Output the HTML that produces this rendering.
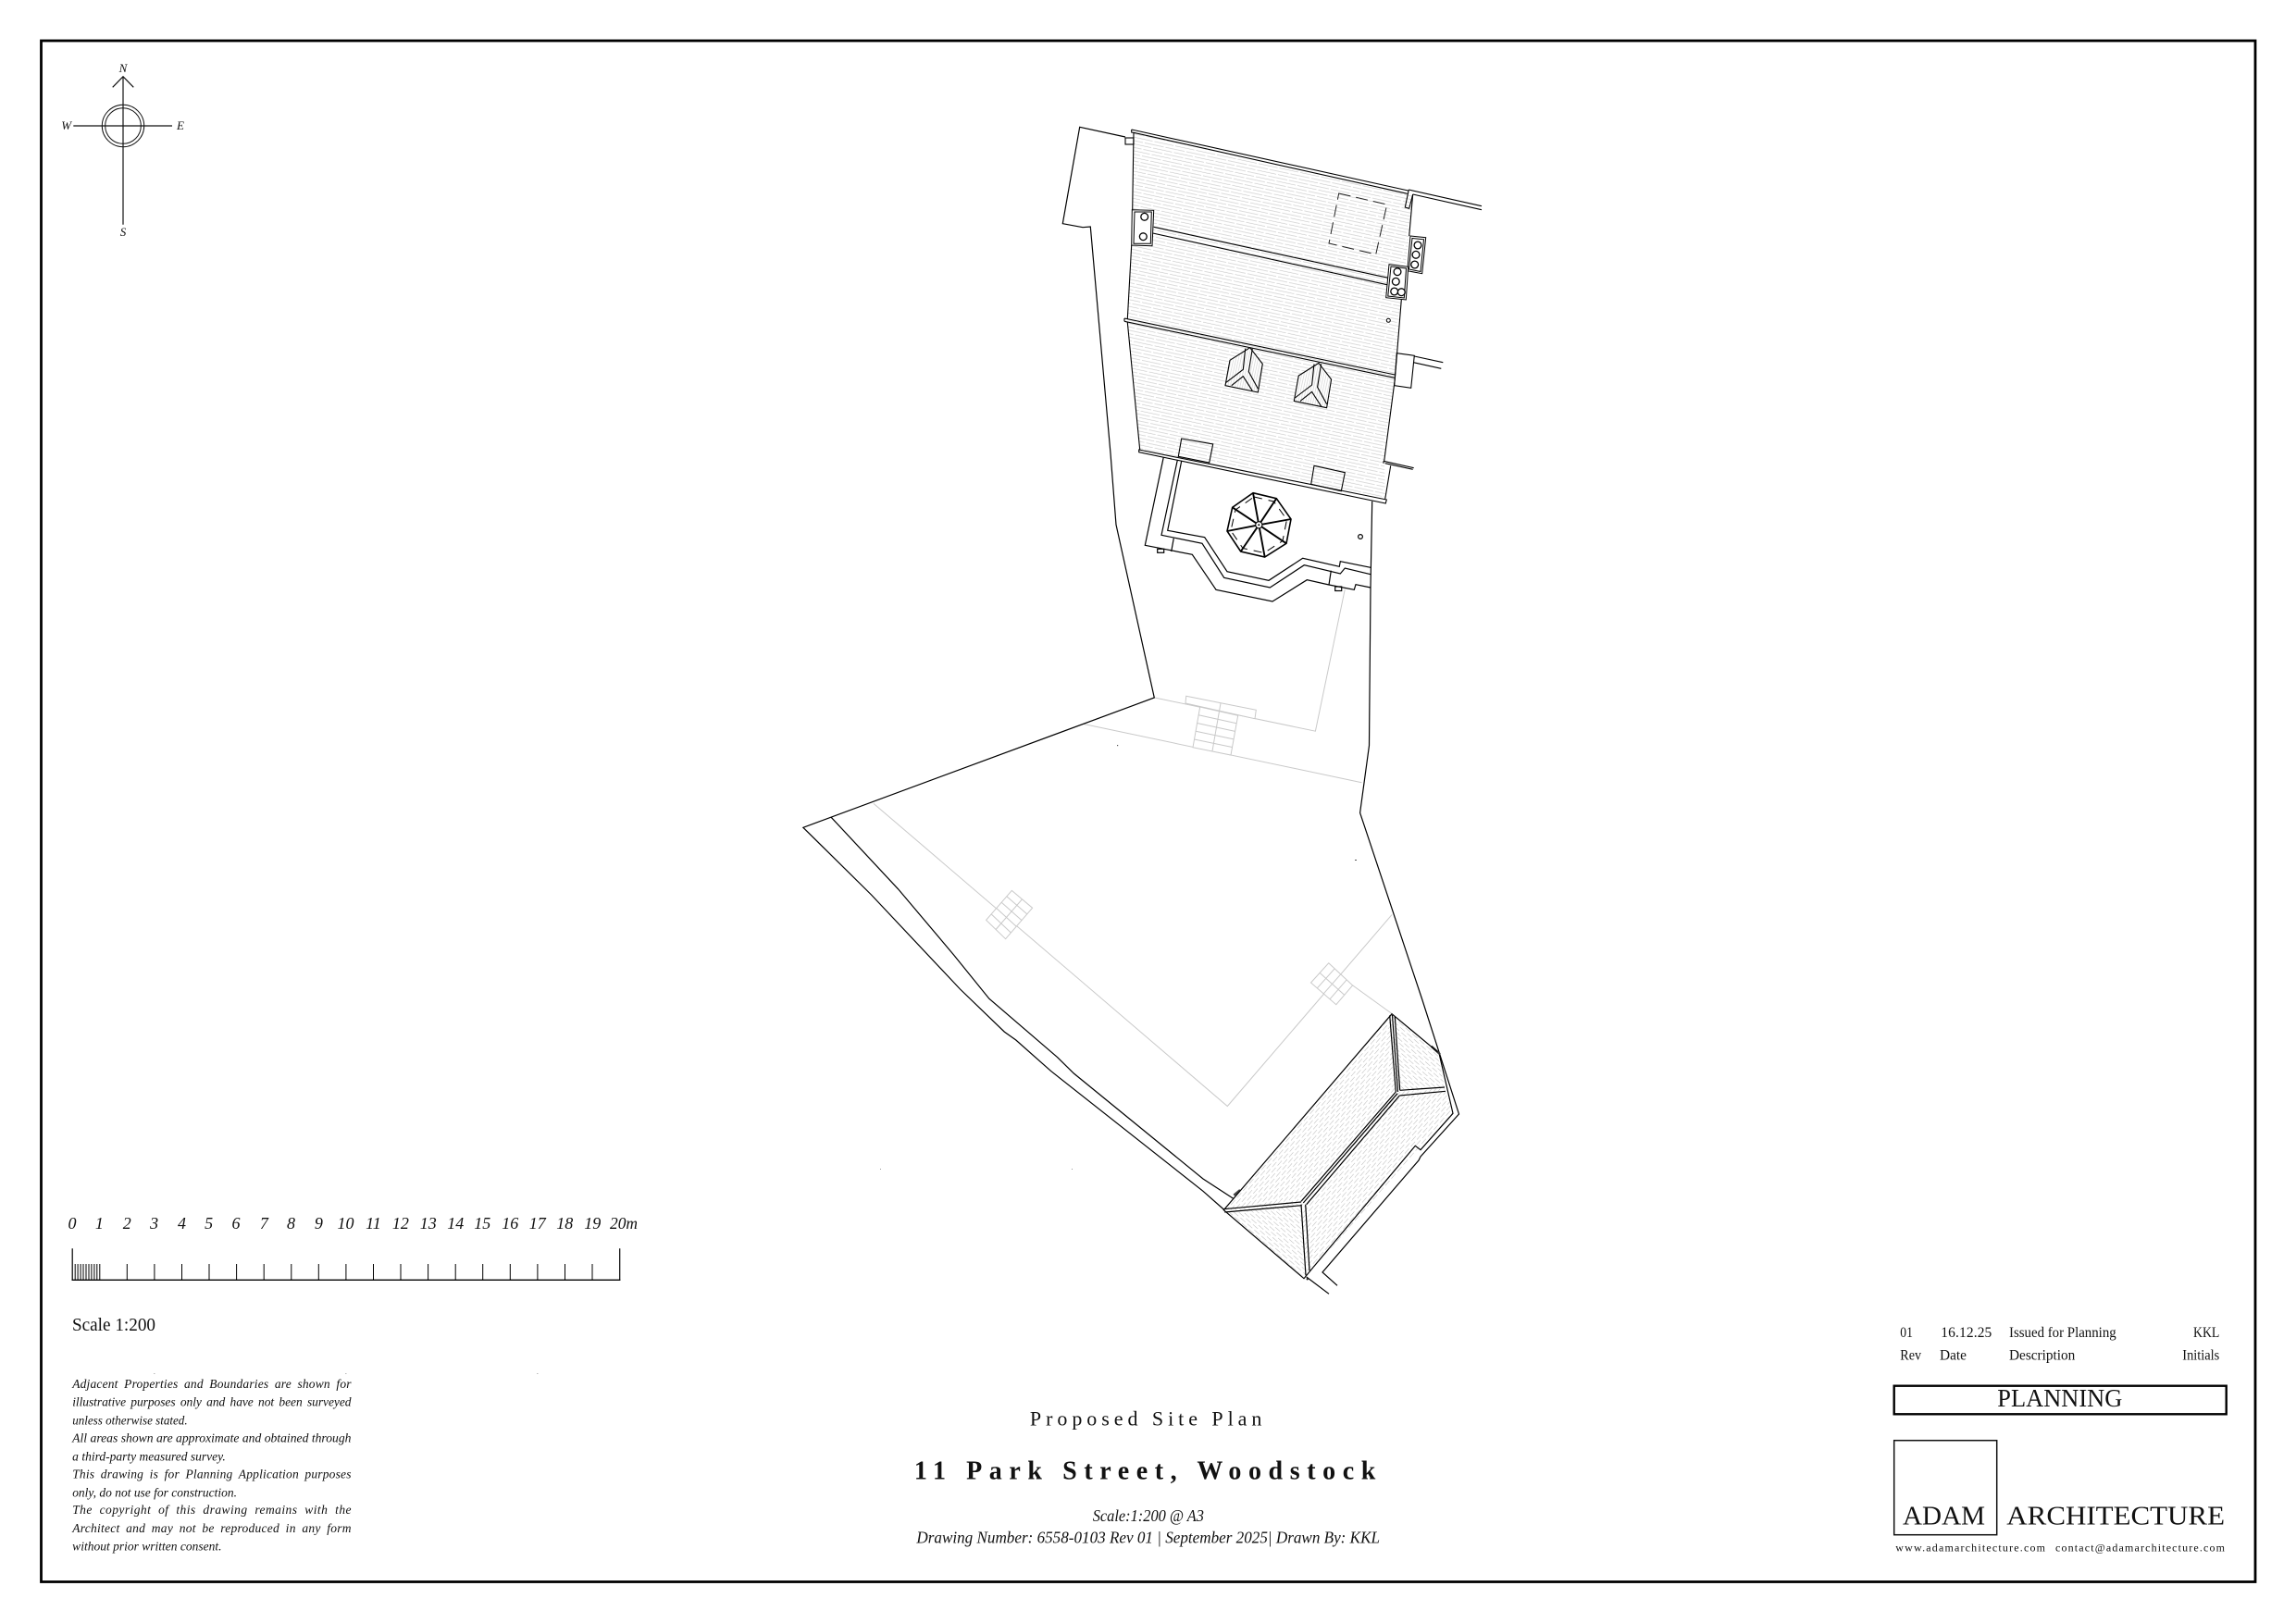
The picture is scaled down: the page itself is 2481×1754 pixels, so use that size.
<!DOCTYPE html>
<html><head><meta charset="utf-8"><title>Proposed Site Plan</title>
<style>html,body{margin:0;padding:0;background:#fff}svg{display:block}
text{font-family:"Liberation Serif",serif;fill:#111}</style></head><body>
<svg xmlns="http://www.w3.org/2000/svg" width="2481" height="1754" viewBox="0 0 2481 1754">
<defs>
<pattern id="h1" width="46" height="7.2" patternUnits="userSpaceOnUse" patternTransform="rotate(12)"><line x1="0" y1="1.8" x2="46" y2="1.8" stroke="#c6c6c6" stroke-width=".6" stroke-dasharray="21 2"/><line x1="0" y1="5.4" x2="46" y2="5.4" stroke="#c6c6c6" stroke-width=".6" stroke-dasharray="21 2" stroke-dashoffset="13"/></pattern>
<pattern id="h2" width="20" height="6.8" patternUnits="userSpaceOnUse" patternTransform="rotate(-49)"><line x1="0" y1="1.7" x2="20" y2="1.7" stroke="#b8b8b8" stroke-width=".6" stroke-dasharray="7 3"/><line x1="0" y1="5.1" x2="20" y2="5.1" stroke="#b8b8b8" stroke-width=".6" stroke-dasharray="7 3" stroke-dashoffset="5"/></pattern>
<pattern id="h4" width="20" height="6.8" patternUnits="userSpaceOnUse" patternTransform="rotate(41)"><line x1="0" y1="1.7" x2="20" y2="1.7" stroke="#b8b8b8" stroke-width=".6" stroke-dasharray="7 3"/><line x1="0" y1="5.1" x2="20" y2="5.1" stroke="#b8b8b8" stroke-width=".6" stroke-dasharray="7 3" stroke-dashoffset="5"/></pattern>
<pattern id="h3" width="2.6" height="10" patternUnits="userSpaceOnUse" patternTransform="rotate(12)"><line x1="1.3" y1="0" x2="1.3" y2="10" stroke="#c4c4c4" stroke-width=".5"/></pattern>
</defs>
<rect width="2481" height="1754" fill="#fff"/>
<rect x="44.5" y="44" width="2392.5" height="1665.5" fill="none" stroke="#000" stroke-width="2.8"/>

<!-- compass -->
<g fill="none" stroke="#111" stroke-width="1.2">
<path d="M133 82.7V242.7M79.3 136H186M121.7 94.3L133 82.7L144.3 94.3"/>
<circle cx="133" cy="136" r="22.7" stroke-width="1"/><circle cx="133" cy="136" r="19.3" stroke-width="1"/>
</g>
<g font-style="italic" font-size="13" text-anchor="middle">
<text x="133" y="78">N</text><text x="71.7" y="140">W</text><text x="195" y="140">E</text><text x="133" y="255">S</text>
</g>

<!-- roof hatch -->
<polygon points="1225,143 1521,209 1526.7,210 1522.7,255 1514,324 1507,410 1496,500 1497,540 1231.7,486 1218,348 1222.7,265 1224,227" fill="url(#h1)"/>
<polygon points="1504,1095.7 1510,1180 1561,1176 1570,1203 1420,1369 1412,1378 1406,1300 1322.3,1307.7 1330,1298.3" fill="url(#h2)"/>
<polygon points="1504,1095.7 1553,1136.7 1561,1175 1511,1179" fill="url(#h4)"/>
<polygon points="1322.3,1307.7 1407,1300 1411,1381.7" fill="url(#h4)"/>
<polygon points="1350.7,375.7 1364.3,393.3 1359.3,424 1324,416.7 1329,389.3" fill="#fff"/>
<polygon points="1425,392.4 1438.6,410 1433.6,440.7 1398.3,433.4 1403.3,406" fill="#fff"/>
<polygon points="1350.7,375.7 1364.3,393.3 1359.3,424 1324,416.7 1329,389.3" fill="url(#h3)"/>
<polygon points="1425,392.4 1438.6,410 1433.6,440.7 1398.3,433.4 1403.3,406" fill="url(#h3)"/>

<!-- grey lines -->
<g fill="none" stroke="#c9c9c9" stroke-width="1">
<path d="M1247.3,753.9L1421.4,790.2L1453.3,636.7"/>
<path d="M1170.5,782.4L1471.4,845.7"/>
<path d="M943.8,868.2L1326.3,1195.5L1504,988.6"/>
<path d="M1461.6,1064.9L1504,1095.5"/>
<polygon points="1281.7,752.3 1357.3,767.3 1356,776.7 1281,760" fill="#fff"/>
<polygon points="1296.7,764 1337.7,773.3 1330,816 1289,807.7" fill="#fff"/>
<path d="M1319,760L1310,811.7M1295.2,772.7L1336.2,781.8M1293.6,781.5L1334.6,790.4M1292.1,790.2L1333.1,798.9M1290.5,799L1331.5,807.5"/>
<polygon points="1093.3,962.4 1115.6,981.2 1086.6,1014.7 1065.6,994.3" fill="#fff"/>
<path d="M1104.5,971.8L1076.1,1004.5M1087.8,968.8L1109.8,987.9M1082.2,975.2L1104,994.6M1076.7,981.5L1098.2,1001.3M1071.1,987.9L1092.4,1008"/>
<polygon points="1435.7,1040.8 1461.6,1064.9 1443.8,1085.7 1416.5,1062" fill="#fff"/>
<path d="M1442.2,1046.8L1423.3,1067.9M1448.7,1052.9L1430.2,1073.9M1455.1,1058.9L1437,1079.8M1426.1,1051.4L1452.7,1075.3"/>
</g>

<!-- site boundaries -->
<g fill="none" stroke="#000" stroke-width="1.2" stroke-linejoin="miter">
<path d="M1216,148L1166.7,137.3L1148.3,241.7L1170,245.7L1178.3,245L1200,490L1206,567L1247.3,754L867.9,894.3L941.5,967L1037.5,1069L1085.3,1115.1L1097.8,1124L1135.7,1157.6L1300,1287.3L1322.3,1307"/>
<path d="M898.2,883.3L970.5,960.8L1030.8,1032.2L1068.8,1079.2L1142.4,1142.4L1160.3,1160L1300,1274L1333,1295.5"/>
<path d="M1482.7,541.7L1481,635L1479.5,805.7L1469.6,878.4L1536.7,1080L1576.5,1204L1535,1250L1533,1254L1429,1375L1445,1389.3"/>
<path d="M1411.7,1380L1436,1398.3"/>
<path d="M1555,1138.3L1570,1203.3L1535,1242.7L1529.3,1238.3L1419.3,1369.3"/>
<path d="M1546.7,1130.7L1556,1139.3" stroke-width="2.4" stroke="#333"/>
<path d="M1333.3,1291.7L1340,1286" stroke-width="2.4" stroke="#444"/>
<circle cx="1412.7" cy="1382.3" r="1.2" fill="#222" stroke="none"/>
</g>

<!-- main building -->
<g fill="none" stroke="#000" stroke-width="1.1">
<rect x="1216" y="149" width="9" height="7" fill="#fff"/>
<path d="M1222.7,140V143L1225,143.3M1222.7,140L1521.7,206M1225,143.3L1520.7,209.3"/>
<path d="M1522.3,205L1601,222.7M1526.7,210L1601,226.7M1522.3,205L1518.3,224L1522.7,225.3L1526.7,210"/>
<path d="M1225,143.3L1223.7,226.7M1222.7,265L1218.3,345M1218.3,348.3L1231.7,486"/>
<path d="M1246.7,245.3L1500,300.3M1245.7,252L1498.7,307.7"/>
<path d="M1215,344V347.3M1215,344L1507.3,405M1215,347.3L1506.7,408.3"/>
<path d="M1526.7,210L1522.7,255M1514.3,324L1507.3,410L1495.7,498.3"/>
<polygon points="1509.3,381.7 1528.3,384.3 1524.7,419.3 1506.7,416.7"/>
<path d="M1528.3,385L1559.3,391.7M1527.3,391.7L1557.3,398.3"/>
<path d="M1230.7,486L1498.3,540L1497.3,544L1230.7,488.7Z"/>
<path d="M1495,498.3V500.7M1495,498.3L1527.7,505.7M1496.7,500.7L1526.7,507.3M1502.7,503.3L1496.7,539.3"/>
<polygon points="1276.7,474 1310.7,480 1306.7,500 1273.3,493.3"/>
<polygon points="1420,503.3 1453.3,510.7 1449.3,530.7 1416.7,523.3"/>
</g>
<g fill="none" stroke="#222" stroke-width="1" stroke-dasharray="13 6">
<polygon points="1446.7,209 1498.7,221 1486.7,275 1436,263"/>
</g>

<!-- chimneys -->
<g fill="#fff" stroke="#000" stroke-width="1">
<polygon points="1223.3,226.7 1246.7,227.3 1245,265.7 1222.7,265"/>
<polygon points="1226,229 1244.3,229 1243.3,263.3 1225,263.3"/>
<circle cx="1236.7" cy="234.3" r="3.9" stroke-width="1.3"/><circle cx="1235.3" cy="255.7" r="3.9" stroke-width="1.3"/>
<polygon points="1524,255 1540.7,256.7 1536.7,295.7 1520.7,292.7"/>
<polygon points="1526,257.5 1538.5,258.8 1535,293.5 1522.5,291"/>
<circle cx="1532" cy="265" r="3.9" stroke-width="1.3"/><circle cx="1530" cy="275.3" r="3.9" stroke-width="1.3"/><circle cx="1528.7" cy="286" r="3.9" stroke-width="1.3"/>
<polygon points="1501,285.7 1521.7,288.3 1519.3,324 1497.7,321.7"/>
<polygon points="1503,288 1519.5,290 1517.3,322 1499.8,320"/>
<circle cx="1510" cy="293.7" r="3.9" stroke-width="1.3"/><circle cx="1508.3" cy="304.3" r="3.9" stroke-width="1.3"/><circle cx="1506.7" cy="315" r="3.9" stroke-width="1.3"/><circle cx="1514.3" cy="315.7" r="3.9" stroke-width="1.3"/>
<circle cx="1500.3" cy="346.3" r="2"/>
</g>

<!-- dormers -->
<g fill="none" stroke="#000" stroke-width="1.1">
<g id="d1">
<polygon points="1350.7,375.7 1364.3,393.3 1359.3,424 1324,416.7 1329,389.3"/>
<path d="M1345.7,376.7L1343.3,399.3L1325,413.3M1353.3,376.7L1349.3,401.7L1359.3,420M1330.7,416.7L1343.3,406.7L1353.3,422.3"/>
</g>
<use href="#d1" x="74.3" y="16.7"/>
</g>

<!-- terrace -->
<g fill="none" stroke="#000" stroke-width="1.2">
<path d="M1257.3,494L1237.3,589.3L1288.3,599.3L1314,637.3L1375,650L1412.3,626.7L1436,632L1463.3,637.3L1465,631.7L1481,635"/>
<path d="M1272.3,497.3L1255,578.3L1299,587.3L1322.7,624.3L1372.3,635L1409.3,610.7L1448.3,620L1453.3,614L1481,620.7"/>
<path d="M1276.7,498.3L1261.7,573.3L1301.7,580.7L1326,617.7L1371,627.3L1407.7,603.3L1447.3,612.3L1448.3,606.7L1481,613.3"/>
<path d="M1268.3,581.7L1265.7,596M1438.3,616.7L1436,632"/>
<rect x="1250.7" y="593.3" width="7" height="4"/><rect x="1442.7" y="634" width="7" height="4.5"/>
<circle cx="1470" cy="580" r="2.4"/>
</g>
<!-- gazebo -->
<g fill="none" stroke="#000">
<polygon points="1354,532.7 1379.3,538.7 1395,561 1390,587.3 1366.7,602 1340.7,596 1326,574 1331.7,548.3" stroke-width="1.6"/>
<polygon points="1355,537 1376.5,542 1390.5,561.5 1386,584.5 1366,597.5 1343,592.5 1330,573.5 1335,551" stroke-width="1" stroke-dasharray="9 7"/>
<path d="M1354,532.7L1360.3,567.3M1379.3,538.7L1360.3,567.3M1395,561L1360.3,567.3M1390,587.3L1360.3,567.3M1366.7,602L1360.3,567.3M1340.7,596L1360.3,567.3M1326,574L1360.3,567.3M1331.7,548.3L1360.3,567.3" stroke-width="1.9"/>
<circle cx="1360.3" cy="567.3" r="3.6" fill="#fff" stroke-width="1.1"/>
<circle cx="1360.3" cy="567.3" r="1" fill="#000" stroke="none"/>
</g>

<!-- south building roof -->
<g fill="none" stroke="#000">
<path d="M1553.3,1136.7L1504,1095.7L1322.3,1307.7L1409,1381.7L1419.3,1369.3" stroke-width="1.2"/>
<g stroke-width="1.2">
<path d="M1508.3,1180L1406,1298.3M1510,1181.7L1408.3,1300M1512.3,1184L1411.7,1301.7"/>
<path d="M1501.7,1097.3L1508.3,1180M1504.5,1097L1510.5,1180M1507.3,1098.3L1512.7,1178.3"/>
<path d="M1512.7,1178.3L1561,1175M1512.3,1184L1562,1179.3"/>
<path d="M1322.3,1306.7L1406,1299M1323.3,1310L1406.7,1302.7"/>
<path d="M1406,1301.7L1411,1378.3M1410.7,1301.7L1415,1373.3"/>
</g>
</g>

<!-- specks -->
<g fill="#555">
<rect x="1207" y="805" width="1.2" height="1.2"/><rect x="1464" y="929" width="2" height="1"/>
<rect x="951" y="1263" width="1" height="1" fill="#999"/><rect x="1158" y="1263" width="1" height="1" fill="#999"/>
<rect x="166" y="1484" width="1.5" height="1" fill="#bbb"/><rect x="373" y="1484" width="1.5" height="1" fill="#bbb"/><rect x="580" y="1484" width="1.5" height="1" fill="#bbb"/>
</g>

<!-- scale bar -->
<g fill="none" stroke="#000" stroke-width="1">
<path d="M78.2,1349.3V1384M669.7,1349.3V1384" stroke-width="1.2"/>
<path d="M77.6,1383.3H670.3" stroke-width="1.4"/>
<path d="M107.8,1366V1383M137.3,1366V1383M166.9,1366V1383M196.5,1366V1383M226,1366V1383M255.6,1366V1383M285.2,1366V1383M314.8,1366V1383M344.3,1366V1383M373.9,1366V1383M403.5,1366V1383M433,1366V1383M462.6,1366V1383M492.2,1366V1383M521.7,1366V1383M551.3,1366V1383M580.9,1366V1383M610.5,1366V1383M640,1366V1383"/>
<path d="M81.2,1366V1383M84.1,1366V1383M87.1,1366V1383M90,1366V1383M93,1366V1383M96,1366V1383M98.9,1366V1383M101.9,1366V1383M104.8,1366V1383"/>
</g>
<g font-style="italic" font-size="18" text-anchor="middle">
<text x="78" y="1328">0</text><text x="107.4" y="1328">1</text><text x="137.2" y="1328">2</text><text x="166.6" y="1328">3</text><text x="196.5" y="1328">4</text><text x="225.6" y="1328">5</text><text x="255" y="1328">6</text><text x="285.4" y="1328">7</text><text x="314.5" y="1328">8</text><text x="344.4" y="1328">9</text><text x="373.5" y="1328">10</text><text x="403.4" y="1328">11</text><text x="432.9" y="1328">12</text><text x="462.8" y="1328">13</text><text x="492.3" y="1328">14</text><text x="521.3" y="1328">15</text><text x="551.3" y="1328">16</text><text x="580.8" y="1328">17</text><text x="610.2" y="1328">18</text><text x="640.2" y="1328">19</text>
<text x="674" y="1328" textLength="30" lengthAdjust="spacingAndGlyphs">20m</text>
</g>
<text x="78" y="1438" font-size="20" textLength="90" lengthAdjust="spacingAndGlyphs">Scale 1:200</text>

<!-- notes -->
<g font-style="italic" font-size="13.5">
<text x="78.2" y="1500" textLength="301.3" lengthAdjust="spacing" word-spacing="3">Adjacent Properties and Boundaries are shown for</text>
<text x="78.2" y="1519.3" textLength="301.3" lengthAdjust="spacing" word-spacing="2">illustrative purposes only and have not been surveyed</text>
<text x="78.2" y="1539.3" textLength="124.4" lengthAdjust="spacingAndGlyphs">unless otherwise stated.</text>
<text x="78.2" y="1558.3" textLength="301.3" lengthAdjust="spacingAndGlyphs">All areas shown are approximate and obtained through</text>
<text x="78.2" y="1578.3" textLength="165.6" lengthAdjust="spacingAndGlyphs">a third-party measured survey.</text>
<text x="78.2" y="1597.3" textLength="301.3" lengthAdjust="spacing" word-spacing="3">This drawing is for Planning Application purposes</text>
<text x="78.2" y="1617.3" textLength="177.8" lengthAdjust="spacingAndGlyphs">only, do not use for construction.</text>
<text x="78.2" y="1636" textLength="301.3" lengthAdjust="spacing" word-spacing="4">The copyright of this drawing remains with the</text>
<text x="78.2" y="1656" textLength="301.3" lengthAdjust="spacing" word-spacing="3">Architect and may not be reproduced in any form</text>
<text x="78.2" y="1675.3" textLength="161.3" lengthAdjust="spacingAndGlyphs">without prior written consent.</text>
</g>

<!-- centre title -->
<text x="1112.9" y="1540.7" font-size="22" textLength="250.5" lengthAdjust="spacing">Proposed Site Plan</text>
<text x="987.9" y="1598.3" font-size="28" font-weight="bold" textLength="498.4" lengthAdjust="spacing">11 Park Street, Woodstock</text>
<text x="1180.7" y="1644" font-size="18" font-style="italic" textLength="120.3" lengthAdjust="spacingAndGlyphs">Scale:1:200 @ A3</text>
<text x="990.4" y="1667.7" font-size="18" font-style="italic" textLength="500.6" lengthAdjust="spacingAndGlyphs">Drawing Number: 6558-0103 Rev 01 | September 2025| Drawn By: KKL</text>

<!-- title block -->
<g font-size="15.5">
<text x="2053.3" y="1445" textLength="13.7" lengthAdjust="spacingAndGlyphs">01</text>
<text x="2097.3" y="1445" textLength="55" lengthAdjust="spacing">16.12.25</text>
<text x="2171" y="1445" textLength="115.7" lengthAdjust="spacingAndGlyphs">Issued for Planning</text>
<text x="2370" y="1445" textLength="28.3" lengthAdjust="spacingAndGlyphs">KKL</text>
<text x="2053.3" y="1469.3" textLength="22.7" lengthAdjust="spacingAndGlyphs">Rev</text>
<text x="2096" y="1469.3" textLength="29" lengthAdjust="spacingAndGlyphs">Date</text>
<text x="2171" y="1469.3" textLength="71.3" lengthAdjust="spacingAndGlyphs">Description</text>
<text x="2358.3" y="1469.3" textLength="40" lengthAdjust="spacingAndGlyphs">Initials</text>
</g>
<rect x="2046.7" y="1497.7" width="359" height="30.6" fill="none" stroke="#000" stroke-width="2.4"/>
<text x="2158.3" y="1520" font-size="27" textLength="135" lengthAdjust="spacingAndGlyphs">PLANNING</text>
<rect x="2046.7" y="1556.7" width="111" height="102" fill="none" stroke="#111" stroke-width="1.5"/>
<text x="2056" y="1647.7" font-size="29" textLength="89" lengthAdjust="spacingAndGlyphs">ADAM</text>
<text x="2168.3" y="1647.7" font-size="29" textLength="235.7" lengthAdjust="spacingAndGlyphs">ARCHITECTURE</text>
<text x="2048.3" y="1676.7" font-size="12" textLength="161.7" lengthAdjust="spacing">www.adamarchitecture.com</text>
<text x="2221" y="1676.7" font-size="12" textLength="183" lengthAdjust="spacing">contact@adamarchitecture.com</text>
</svg>
</body></html>
